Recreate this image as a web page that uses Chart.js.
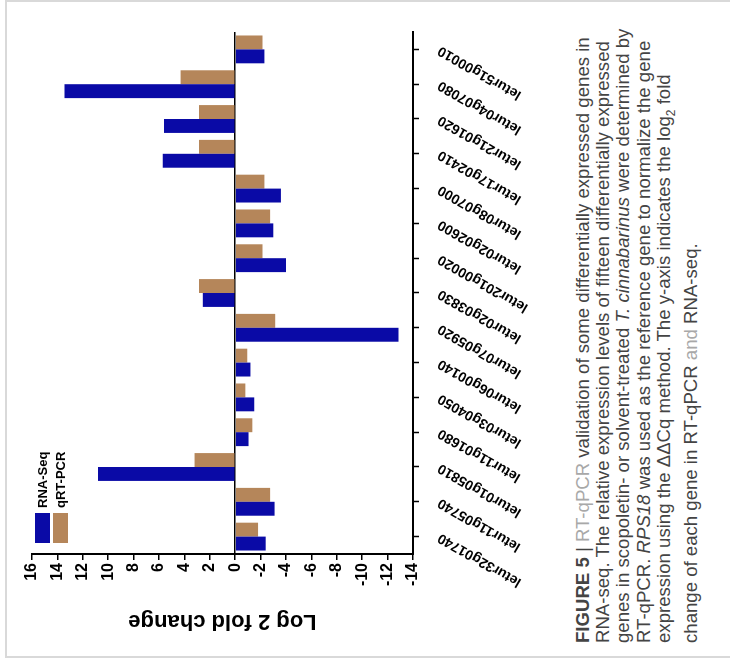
<!DOCTYPE html>
<html>
<head>
<meta charset="utf-8">
<title>Figure 5</title>
<script src="https://cdn.jsdelivr.net/npm/chart.js@4.4.1/dist/chart.umd.min.js"></script>
<style>
  html, body { margin: 0; padding: 0; background: #fff; }
  body { width: 730px; height: 662px; overflow: hidden; position: relative; }
  /* the figure is drawn upright and turned a quarter turn, like the scanned page */
  #figure {
    position: absolute; left: 0; top: 0; width: 662px; height: 730px;
    transform-origin: 0 0; transform: translate(0, 662px) rotate(-90deg);
  }
  #frame {
    position: absolute; left: 4px; top: 5px; width: 654px; height: 760px;
    border: 2px solid #d9d9d9; border-bottom: none;
  }
  #chartBox { position: absolute; left: 0; top: 0; width: 662px; height: 560px; }
  #legend {
    position: absolute; left: 119px; top: 35px;
    font: bold 13px "Liberation Sans", Arial, sans-serif; color: #000;
  }
  .leg-item { display: flex; align-items: center; height: 15px; margin-bottom: 3px; }
  .leg-box { width: 30px; height: 15px; margin-right: 5px; }
  #caption {
    position: absolute; left: 19px; top: 573px;
    font: 18.6px/20.2px "Liberation Sans", Arial, sans-serif; color: #444;
    white-space: nowrap;
  }
  #caption .hl { color: #a8a8a8; }
</style>
</head>
<body>
<div id="figure">
  <div id="frame"></div>
  <div id="chartBox"><canvas id="chart" width="662" height="560"></canvas></div>
  <div id="legend"></div>
  <div id="caption">
    <b>FIGURE 5</b> | <span class="hl">RT-qPCR</span> validation of some differentially expressed genes in<br>
    RNA-seq. The relative expression levels of fifteen differentially expressed<br>
    genes in scopoletin- or solvent-treated <i>T. cinnabarinus</i> were determined by<br>
    RT-qPCR. <i>RPS18</i> was used as the reference gene to normalize the gene<br>
    expression using the ΔΔCq method. The y-axis indicates the log<sub style="font-size:12px">2</sub> fold<br>
    change of each gene in RT-qPCR <span class="hl">and</span> RNA-seq.
  </div>
</div>

<script>
// genes, left to right on the upright chart
const categories = [
  "letur32g01740", "letur11g05740", "letur01g05810", "letur11g01680", "letur03g04050",
  "letur06g00140", "letur07g05920", "letur02g03830", "letur201g00020", "letur02g02600",
  "letur08g07000", "letur17g02410", "letur21g01620", "letur04g07080", "letur51g00010"
];

// log2 fold change
const rnaSeq = [-2.4, -3.1, 10.8, -1.05, -1.5, -1.2, -12.85, 2.55, -4.0, -3.0, -3.6, 5.7, 5.6, 13.45, -2.3];
const qrtPcr = [-1.8, -2.75, 3.2, -1.35, -0.8, -0.95, -3.15, 2.85, -2.15, -2.75, -2.3, 2.85, 2.85, 4.3, -2.15];

const valueTicks = [-14, -12, -10, -8, -6, -4, -2, 0, 2, 4, 6, 8, 10, 12, 14, 16];

const seriesColors = { rna: "#0a0aa6", qpcr: "#b5865a" };

Chart.defaults.font.family = '"Liberation Sans", Arial, sans-serif';
Chart.defaults.color = "#000";

function buildLegend(chart) {
  const box = document.getElementById("legend");
  chart.data.datasets.forEach(ds => {
    const item = document.createElement("div");
    item.className = "leg-item";
    const sw = document.createElement("span");
    sw.className = "leg-box";
    sw.style.background = ds.backgroundColor;
    const txt = document.createElement("span");
    txt.textContent = ds.label;
    item.appendChild(sw);
    item.appendChild(txt);
    box.appendChild(item);
  });
}

const chart = new Chart(document.getElementById("chart"), {
  type: "bar",
  data: {
    labels: categories,
    datasets: [
      { label: "RNA-Seq", data: rnaSeq, backgroundColor: seriesColors.rna },
      { label: "qRT-PCR", data: qrtPcr, backgroundColor: seriesColors.qpcr }
    ]
  },
  options: {
    responsive: false,
    animation: false,
    layout: { padding: { top: 32, right: 32, left: 0, bottom: 0 } },
    datasets: { bar: { categoryPercentage: 0.8, barPercentage: 1.0 } },
    plugins: { legend: { display: false }, tooltip: { enabled: false } },
    scales: {
      x: {
        offset: true,
        grid: { offset: false, drawOnChartArea: false, tickLength: 6, tickColor: "#000", tickWidth: 1.5 },
        border: { display: true, color: "#000", width: 2 },
        ticks: {
          autoSkip: false, minRotation: 60, maxRotation: 60, padding: 16,
          font: { size: 14, weight: "bold" }
        },
        afterFit: s => { s.height = 147; }
      },
      y: {
        min: -14,
        max: 16,
        afterBuildTicks: s => { s.ticks = valueTicks.map(v => ({ value: v })); },
        grid: {
          color: c => (c.tick && c.tick.value === 0 ? "#000" : "rgba(0,0,0,0)"),
          lineWidth: 1.5,
          tickColor: "#000",
          tickLength: 6
        },
        border: { display: true, color: "#000", width: 2 },
        ticks: { padding: 3, font: { size: 16, weight: "bold" } },
        title: {
          display: true, text: "Log 2 fold change",
          font: { size: 22, weight: "bold" }, padding: { top: 28, bottom: 0 }
        },
        afterFit: s => { s.width = 108; }
      }
    }
  }
});

buildLegend(chart);
</script>
</body>
</html>
